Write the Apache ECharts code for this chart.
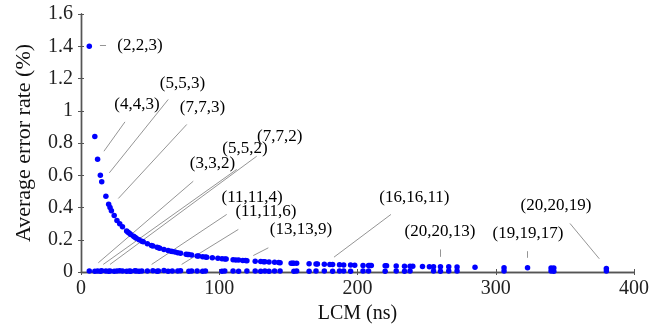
<!DOCTYPE html>
<html>
<head>
<meta charset="utf-8">
<script src="https://cdn.jsdelivr.net/npm/echarts@6/dist/echarts.min.js"></script>
<style>
  html, body { margin: 0; padding: 0; background: #fff; }
  #errChart { width: 670px; height: 332px; }
</style>
</head>
<body>
<div id="errChart"></div>
<script>
// upper curve: LCM (ns) vs average error rate (%)
const curveLcm = [6, 10, 12, 14, 15, 18, 20, 21, 22, 24, 26, 28, 30, 33, 34, 35, 36, 38, 39, 40,
  42, 44, 45, 48, 51, 52, 55, 56, 57, 60, 63, 65, 66, 68, 70, 72, 76, 77, 78, 80,
  84, 85, 88, 90, 91, 95, 99, 102, 104, 105, 110, 112, 114, 117, 119, 120, 126, 130, 132, 133,
  136, 140, 143, 144, 152, 153, 154, 156, 165, 170, 171, 176, 180, 182, 187, 190, 195, 198, 204, 208,
  209, 210, 220, 221, 228, 234, 238, 240, 247, 252, 255, 260, 266, 272, 285, 306, 323, 340, 342, 380];
const curveErr = [1.40, 0.84, 0.70, 0.60, 0.56, 0.47, 0.42, 0.40, 0.38, 0.35, 0.32, 0.30, 0.28, 0.255, 0.247, 0.24, 0.233, 0.221, 0.215, 0.21,
  0.20, 0.19, 0.187, 0.175, 0.165, 0.162, 0.153, 0.15, 0.147, 0.14, 0.133, 0.129, 0.127, 0.124, 0.12, 0.117, 0.11, 0.109, 0.108, 0.105,
  0.10, 0.099, 0.095, 0.093, 0.092, 0.088, 0.085, 0.082, 0.081, 0.08, 0.076, 0.075, 0.074, 0.072, 0.071, 0.07, 0.067, 0.065, 0.064, 0.063,
  0.062, 0.06, 0.059, 0.058, 0.055, 0.055, 0.055, 0.054, 0.051, 0.049, 0.049, 0.048, 0.047, 0.046, 0.045, 0.044, 0.043, 0.042, 0.041, 0.040,
  0.040, 0.040, 0.038, 0.038, 0.037, 0.036, 0.035, 0.035, 0.034, 0.033, 0.033, 0.032, 0.032, 0.031, 0.029, 0.027, 0.026, 0.025, 0.025, 0.022];

// lower row: near-zero error
const lowLcm = [6, 10, 12, 14, 15, 18, 20, 21, 24, 26, 28, 30, 33, 35, 36, 39, 40, 42, 44, 48,
  52, 55, 56, 60, 63, 66, 70, 72, 78, 80, 84, 88, 90, 102, 104, 110, 114, 120, 126, 130,
  133, 136, 140, 144, 154, 156, 165, 170, 176, 182, 187, 190, 195, 204, 208, 220, 228, 234, 238, 255,
  260, 266, 272, 306, 340, 342, 380];
const lowErr = [0.006, 0.005, 0.006, 0.005, 0.007, 0.006, 0.005, 0.006, 0.005, 0.006, 0.008, 0.006, 0.005, 0.006, 0.005, 0.007, 0.006, 0.005, 0.006, 0.006,
  0.007, 0.005, 0.006, 0.009, 0.005, 0.006, 0.006, 0.008, 0.005, 0.006, 0.006, 0.005, 0.006, 0.005, 0.006, 0.006, 0.005, 0.006, 0.006, 0.005,
  0.006, 0.005, 0.006, 0.006, 0.005, 0.006, 0.005, 0.006, 0.006, 0.005, 0.006, 0.006, 0.005, 0.006, 0.006, 0.005, 0.006, 0.005, 0.006, 0.006,
  0.005, 0.006, 0.006, 0.006, 0.006, 0.005, 0.006];

// annotations: text, text position, leader line
const tagText = ["(2,2,3)", "(4,4,3)", "(5,5,3)", "(7,7,3)", "(3,3,2)", "(5,5,2)", "(7,7,2)",
  "(11,11,4)", "(11,11,6)", "(13,13,9)", "(16,16,11)", "(20,20,13)", "(19,19,17)", "(20,20,19)"];
const tagX = [42.7, 40.5, 73.4, 87.9, 95.1, 118.6, 143.7, 123.7, 133.8, 159.1, 241.1, 259.7, 323.3, 343.6];
const tagY = [1.405, 1.039, 1.167, 1.022, 0.671, 0.764, 0.838, 0.464, 0.375, 0.264, 0.464, 0.251, 0.239, 0.412];
const leadStart = [[13.7, 1.405], [31.8, 0.931], [63.1, 1.070], [76.5, 0.915], [81.2, 0.563], [112.6, 0.636], [127.1, 0.718],
  [105.4, 0.357], [113.8, 0.264], [135.5, 0.150], [224.2, 0.357], [259.7, 0.140], [322.8, 0.129], [353.7, 0.301]];
const leadEnd = [[18.1, 1.405], [16.6, 0.749], [20.5, 0.615], [27.0, 0.456], [12.5, 0.057], [16.1, 0.047], [21.0, 0.047],
  [51.1, 0.047], [72.8, 0.047], [124.6, 0.102], [183.0, 0.092], [259.7, 0.094], [322.8, 0.088], [374.9, 0.082]];

const serif = "Liberation Serif";
const frame = { show: true, lineStyle: { color: "#555", width: 1.4 } };
const tick = { show: true, inside: true, length: 3, lineStyle: { color: "#555" } };

const chart = echarts.init(document.getElementById("errChart"));
chart.setOption({
  animation: false,
  grid: { left: 81, right: 36, top: 14, bottom: 60 },
  xAxis: [
    {
      type: "value", min: 0, max: 400, interval: 100,
      name: "LCM (ns)", nameLocation: "middle", nameGap: 32,
      nameTextStyle: { fontFamily: serif, fontSize: 20, color: "#111" },
      axisLine: frame, axisTick: tick,
      axisLabel: { fontFamily: serif, fontSize: 20, color: "#222", margin: 7 },
      splitLine: { show: false },
    },
    {
      type: "value", min: 0, max: 400, interval: 100, position: "top",
      axisLine: frame, axisTick: tick, axisLabel: { show: false }, splitLine: { show: false },
    },
  ],
  yAxis: [
    {
      type: "value", min: 0, max: 1.6, interval: 0.2,
      name: "Average error rate (%)", nameLocation: "middle", nameGap: 46,
      nameTextStyle: { fontFamily: serif, fontSize: 22, color: "#111" },
      axisLine: frame, axisTick: tick,
      axisLabel: { fontFamily: serif, fontSize: 20, color: "#222", margin: 8 },
      splitLine: { show: false },
    },
    {
      type: "value", min: 0, max: 1.6, interval: 0.2, position: "right",
      axisLine: frame, axisTick: tick, axisLabel: { show: false }, splitLine: { show: false },
    },
  ],
  series: [
    {
      type: "lines", coordinateSystem: "cartesian2d", silent: true, z: 1,
      lineStyle: { color: "#7a7a7a", width: 0.8, opacity: 1 },
      data: leadStart.map((s, i) => ({ coords: [s, leadEnd[i]] })),
    },
    {
      type: "scatter", symbolSize: 0, silent: true, z: 1,
      itemStyle: { opacity: 1 },
      label: {
        show: true, position: "inside", fontFamily: serif, fontSize: 17, color: "#000",
        formatter: (p) => tagText[p.dataIndex],
      },
      data: tagX.map((x, i) => [x, tagY[i]]),
    },
    {
      type: "scatter", symbol: "circle", symbolSize: 5.5, z: 3,
      itemStyle: { color: "#0000ff", opacity: 1 },
      data: lowLcm.map((x, i) => [x, lowErr[i]]),
    },
    {
      type: "scatter", symbol: "circle", symbolSize: 5.5, z: 3,
      itemStyle: { color: "#0000ff", opacity: 1 },
      data: curveLcm.map((x, i) => [x, curveErr[i]]),
    },
  ],
});
</script>
</body>
</html>
